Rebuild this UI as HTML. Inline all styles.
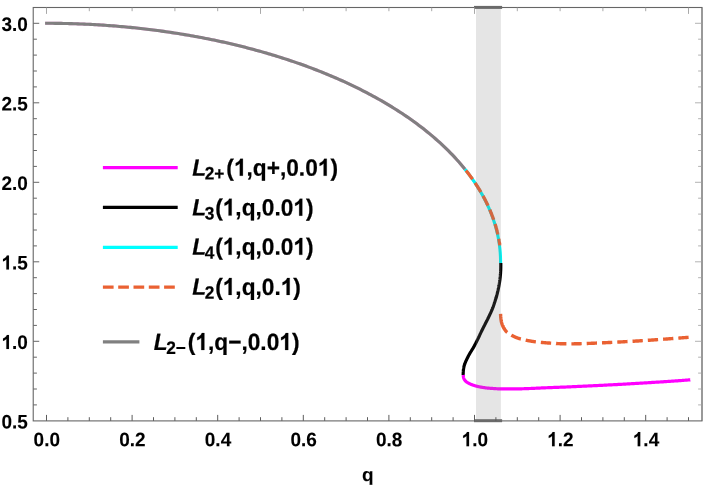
<!DOCTYPE html><html><head><meta charset="utf-8"><style>html,body{margin:0;padding:0;background:#fff}svg{display:block}text{font-family:"Liberation Sans",sans-serif;font-weight:bold;fill:#000;stroke:#000;stroke-width:0.2px}.h{fill:none;stroke:none}.t{stroke-width:0.1px}text{filter:grayscale(0)}</style></head><body>
<svg width="711" height="488" viewBox="0 0 711 488">
<rect width="711" height="488" fill="#fff"/>
<path d="M45.10,23.30 L46.60,23.30 L48.69,23.30 L50.78,23.31 L52.88,23.32 L54.97,23.34 L57.06,23.36 L59.15,23.39 L61.24,23.42 L63.34,23.46 L65.43,23.51 L67.52,23.55 L69.61,23.61 L71.70,23.66 L73.80,23.73 L75.89,23.80 L77.98,23.87 L80.07,23.95 L82.17,24.03 L84.26,24.12 L86.35,24.22 L88.44,24.32 L90.53,24.42 L92.63,24.53 L94.72,24.64 L96.81,24.76 L98.90,24.89 L100.99,25.02 L103.09,25.15 L105.18,25.29 L107.27,25.44 L109.36,25.59 L111.45,25.75 L113.55,25.91 L115.64,26.07 L117.73,26.25 L119.82,26.42 L121.91,26.61 L124.01,26.79 L126.10,26.99 L128.19,27.18 L130.28,27.39 L132.37,27.60 L134.47,27.81 L136.56,28.03 L138.65,28.25 L140.74,28.48 L142.83,28.72 L144.93,28.96 L147.02,29.21 L149.11,29.46 L151.20,29.72 L153.30,29.98 L155.39,30.25 L157.48,30.52 L159.57,30.80 L161.66,31.09 L163.76,31.38 L165.85,31.68 L167.94,31.98 L170.03,32.29 L172.12,32.60 L174.22,32.92 L176.31,33.24 L178.40,33.57 L180.49,33.91 L182.58,34.25 L184.68,34.60 L186.77,34.95 L188.86,35.31 L190.95,35.68 L193.04,36.05 L195.14,36.43 L197.23,36.81 L199.32,37.20 L201.41,37.60 L203.50,38.00 L205.60,38.41 L207.69,38.82 L209.78,39.24 L211.87,39.67 L213.97,40.10 L216.06,40.54 L218.15,40.98 L220.24,41.44 L222.33,41.89 L224.43,42.36 L226.52,42.83 L228.61,43.31 L230.70,43.79 L232.79,44.28 L234.89,44.78 L236.98,45.29 L239.07,45.80 L241.16,46.32 L243.25,46.84 L245.35,47.37 L247.44,47.91 L249.53,48.46 L251.62,49.01 L253.71,49.57 L255.81,50.14 L257.90,50.71 L259.99,51.29 L262.08,51.88 L264.17,52.48 L266.27,53.08 L268.36,53.69 L270.45,54.31 L272.54,54.94 L274.63,55.57 L276.73,56.22 L278.82,56.87 L280.91,57.52 L283.00,58.19 L285.10,58.87 L287.19,59.55 L289.28,60.24 L291.37,60.94 L293.46,61.65 L295.56,62.36 L297.65,63.09 L299.74,63.82 L301.83,64.57 L303.92,65.32 L306.02,66.08 L308.11,66.85 L310.20,67.63 L312.29,68.42 L314.38,69.21 L316.48,70.02 L318.57,70.84 L320.66,71.67 L322.75,72.50 L324.84,73.35 L326.94,74.21 L329.03,75.08 L331.12,75.96 L333.21,76.85 L335.30,77.75 L337.40,78.66 L339.49,79.58 L341.58,80.51 L343.67,81.46 L345.77,82.42 L347.86,83.38 L349.95,84.37 L352.04,85.36 L354.13,86.37 L356.23,87.38 L358.32,88.42 L360.41,89.46 L362.50,90.52 L364.59,91.59 L366.69,92.68 L368.78,93.78 L370.87,94.89 L372.96,96.02 L375.05,97.16 L377.15,98.32 L379.24,99.50 L381.33,100.69 L383.42,101.90 L385.51,103.12 L387.61,104.37 L389.70,105.63 L391.79,106.90 L393.88,108.20 L395.97,109.51 L398.07,110.85 L400.16,112.20 L402.25,113.58 L404.34,114.98 L406.44,116.39 L408.53,117.83 L410.62,119.30 L412.71,120.78 L414.80,122.30 L416.90,123.83 L418.99,125.40 L421.08,126.99 L423.17,128.60 L425.26,130.25 L427.36,131.93 L429.45,133.64 L431.54,135.38 L433.63,137.15 L435.72,138.97 L437.82,140.81 L439.91,142.70 L442.00,144.63 L444.09,146.60 L446.18,148.61 L448.28,150.68 L450.37,152.79 L452.46,154.95 L454.55,157.18 L456.64,159.46 L458.74,161.81 L460.83,164.22 L462.92,166.71 L465.01,169.28" fill="none" stroke="#e040b8" stroke-opacity="0.5" stroke-width="3.1"/>
<path d="M45.10,23.30 L46.60,23.30 L48.69,23.30 L50.78,23.31 L52.88,23.32 L54.97,23.34 L57.06,23.36 L59.15,23.39 L61.24,23.42 L63.34,23.46 L65.43,23.51 L67.52,23.55 L69.61,23.61 L71.70,23.66 L73.80,23.73 L75.89,23.80 L77.98,23.87 L80.07,23.95 L82.17,24.03 L84.26,24.12 L86.35,24.22 L88.44,24.32 L90.53,24.42 L92.63,24.53 L94.72,24.64 L96.81,24.76 L98.90,24.89 L100.99,25.02 L103.09,25.15 L105.18,25.29 L107.27,25.44 L109.36,25.59 L111.45,25.75 L113.55,25.91 L115.64,26.07 L117.73,26.25 L119.82,26.42 L121.91,26.61 L124.01,26.79 L126.10,26.99 L128.19,27.18 L130.28,27.39 L132.37,27.60 L134.47,27.81 L136.56,28.03 L138.65,28.25 L140.74,28.48 L142.83,28.72 L144.93,28.96 L147.02,29.21 L149.11,29.46 L151.20,29.72 L153.30,29.98 L155.39,30.25 L157.48,30.52 L159.57,30.80 L161.66,31.09 L163.76,31.38 L165.85,31.68 L167.94,31.98 L170.03,32.29 L172.12,32.60 L174.22,32.92 L176.31,33.24 L178.40,33.57 L180.49,33.91 L182.58,34.25 L184.68,34.60 L186.77,34.95 L188.86,35.31 L190.95,35.68 L193.04,36.05 L195.14,36.43 L197.23,36.81 L199.32,37.20 L201.41,37.60 L203.50,38.00 L205.60,38.41 L207.69,38.82 L209.78,39.24 L211.87,39.67 L213.97,40.10 L216.06,40.54 L218.15,40.98 L220.24,41.44 L222.33,41.89 L224.43,42.36 L226.52,42.83 L228.61,43.31 L230.70,43.79 L232.79,44.28 L234.89,44.78 L236.98,45.29 L239.07,45.80 L241.16,46.32 L243.25,46.84 L245.35,47.37 L247.44,47.91 L249.53,48.46 L251.62,49.01 L253.71,49.57 L255.81,50.14 L257.90,50.71 L259.99,51.29 L262.08,51.88 L264.17,52.48 L266.27,53.08 L268.36,53.69 L270.45,54.31 L272.54,54.94 L274.63,55.57 L276.73,56.22 L278.82,56.87 L280.91,57.52 L283.00,58.19 L285.10,58.87 L287.19,59.55 L289.28,60.24 L291.37,60.94 L293.46,61.65 L295.56,62.36 L297.65,63.09 L299.74,63.82 L301.83,64.57 L303.92,65.32 L306.02,66.08 L308.11,66.85 L310.20,67.63 L312.29,68.42 L314.38,69.21 L316.48,70.02 L318.57,70.84 L320.66,71.67 L322.75,72.50 L324.84,73.35 L326.94,74.21 L329.03,75.08 L331.12,75.96 L333.21,76.85 L335.30,77.75 L337.40,78.66 L339.49,79.58 L341.58,80.51 L343.67,81.46 L345.77,82.42 L347.86,83.38 L349.95,84.37 L352.04,85.36 L354.13,86.37 L356.23,87.38 L358.32,88.42 L360.41,89.46 L362.50,90.52 L364.59,91.59 L366.69,92.68 L368.78,93.78 L370.87,94.89 L372.96,96.02 L375.05,97.16 L377.15,98.32 L379.24,99.50 L381.33,100.69 L383.42,101.90 L385.51,103.12 L387.61,104.37 L389.70,105.63 L391.79,106.90 L393.88,108.20 L395.97,109.51 L398.07,110.85 L400.16,112.20 L402.25,113.58 L404.34,114.98 L406.44,116.39 L408.53,117.83 L410.62,119.30 L412.71,120.78 L414.80,122.30 L416.90,123.83 L418.99,125.40 L421.08,126.99 L423.17,128.60 L425.26,130.25 L427.36,131.93 L429.45,133.64 L431.54,135.38 L433.63,137.15 L435.72,138.97 L437.82,140.81 L439.91,142.70 L442.00,144.63 L444.09,146.60 L446.18,148.61 L448.28,150.68 L450.37,152.79 L452.46,154.95 L454.55,157.18 L456.64,159.46 L458.74,161.81 L460.83,164.22 L462.92,166.71 L465.01,169.28" fill="none" stroke="#808080" stroke-width="3.1"/>
<path d="M465.01,169.28 L465.39,169.75 L465.76,170.22 L466.13,170.69 L466.50,171.15 L466.86,171.62 L467.23,172.09 L467.59,172.56 L467.94,173.03 L468.30,173.50 L468.66,173.97 L469.01,174.43 L469.36,174.90 L469.71,175.37 L470.05,175.84 L470.40,176.31 L470.74,176.78 L471.08,177.25 L471.41,177.71 L471.75,178.18 L472.08,178.65 L472.41,179.12 L472.74,179.59 L473.07,180.06 L473.39,180.53 L473.71,180.99 L474.03,181.46 L474.35,181.93 L474.67,182.40 L474.98,182.87 L475.29,183.34 L475.60,183.81 L475.91,184.27 L476.22,184.74 L476.52,185.21 L476.82,185.68 L477.12,186.15 L477.42,186.62 L477.71,187.09 L478.01,187.55 L478.30,188.02 L478.59,188.49 L478.87,188.96 L479.16,189.43 L479.44,189.90 L479.72,190.37 L480.00,190.84 L480.28,191.30 L480.55,191.77 L480.83,192.24 L481.10,192.71 L481.37,193.18 L481.63,193.65 L481.90,194.12 L482.16,194.58 L482.42,195.05 L482.68,195.52 L482.94,195.99 L483.19,196.46 L483.45,196.93 L483.70,197.40 L483.95,197.86 L484.19,198.33 L484.44,198.80 L484.68,199.27 L484.92,199.74 L485.16,200.21 L485.40,200.68 L485.64,201.14 L485.87,201.61 L486.10,202.08 L486.33,202.55 L486.56,203.02 L486.78,203.49 L487.01,203.96 L487.23,204.42 L487.45,204.89 L487.67,205.36 L487.89,205.83 L488.10,206.30 L488.31,206.77 L488.52,207.24 L488.73,207.70 L488.94,208.17 L489.14,208.64 L489.35,209.11 L489.55,209.58 L489.75,210.05 L489.94,210.52 L490.14,210.99 L490.33,211.45 L490.52,211.92 L490.71,212.39 L490.90,212.86 L491.09,213.33 L491.27,213.80 L491.45,214.27 L491.64,214.73 L491.81,215.20 L491.99,215.67 L492.17,216.14 L492.34,216.61 L492.51,217.08 L492.68,217.55 L492.85,218.01 L493.01,218.48 L493.18,218.95 L493.34,219.42 L493.50,219.89 L493.66,220.36 L493.81,220.83 L493.97,221.29 L494.12,221.76 L494.27,222.23 L494.42,222.70 L494.57,223.17 L494.71,223.64 L494.86,224.11 L495.00,224.57 L495.14,225.04 L495.28,225.51 L495.41,225.98 L495.55,226.45 L495.68,226.92 L495.81,227.39 L495.94,227.85 L496.07,228.32 L496.19,228.79 L496.32,229.26 L496.44,229.73 L496.56,230.20 L496.68,230.67 L496.79,231.14 L496.91,231.60 L497.02,232.07 L497.13,232.54 L497.24,233.01 L497.35,233.48 L497.46,233.95 L497.56,234.42 L497.66,234.88 L497.76,235.35 L497.86,235.82 L497.96,236.29 L498.05,236.76 L498.15,237.23 L498.24,237.70 L498.33,238.16 L498.42,238.63 L498.50,239.10 L498.59,239.57 L498.67,240.04 L498.75,240.51 L498.83,240.98 L498.91,241.44 L498.98,241.91 L499.06,242.38 L499.13,242.85 L499.20,243.32 L499.27,243.79 L499.33,244.26 L499.40,244.72 L499.46,245.19 L499.52,245.66 L499.58,246.13 L499.64,246.60 L499.70,247.07 L499.75,247.54 L499.80,248.00 L499.85,248.47 L499.90,248.94 L499.95,249.41 L500.00,249.88 L500.04,250.35 L500.08,250.82 L500.12,251.28 L500.16,251.75 L500.20,252.22 L500.23,252.69 L500.26,253.16 L500.30,253.63 L500.33,254.10 L500.35,254.57 L500.38,255.03 L500.40,255.50 L500.43,255.97 L500.45,256.44 L500.47,256.91 L500.48,257.38 L500.50,257.85 L500.51,258.31 L500.53,258.78 L500.54,259.25 L500.55,259.72 L500.55,260.19 L500.56,260.66 L500.56,261.13 L500.56,261.59 L500.56,262.06 L500.56,262.53 L500.56,263.00" fill="none" stroke="#00f2f2" stroke-width="3.1"/>
<path d="M466.01,170.53 L466.23,170.80 L466.53,171.18 L466.83,171.56 L467.12,171.94 L467.42,172.32 L467.71,172.70 L468.01,173.09 L468.30,173.47 L468.59,173.85 L468.88,174.23 L469.16,174.61 L469.45,174.99 L469.73,175.37 L470.02,175.75 L470.30,176.13 L470.58,176.51 L470.85,176.89 L471.13,177.27 L471.41,177.65 L471.68,178.03 L471.95,178.41 L472.23,178.79 L472.50,179.18 L472.55,179.25 M475.05,182.87 L475.12,182.98 L475.37,183.36 L475.63,183.74 L475.88,184.12 L476.13,184.50 L476.38,184.88 L476.63,185.26 L476.87,185.65 L477.12,186.03 L477.36,186.41 L477.60,186.79 L477.85,187.17 L478.09,187.55 L478.32,187.93 L478.56,188.31 L478.80,188.69 L479.03,189.07 L479.26,189.45 L479.50,189.83 L479.73,190.21 L479.96,190.59 L480.18,190.97 L480.41,191.35 L480.63,191.73 L480.85,192.10 M483.02,195.92 L483.23,196.30 L483.44,196.68 L483.65,197.06 L483.85,197.44 L484.06,197.82 L484.26,198.21 L484.46,198.59 L484.66,198.97 L484.86,199.35 L485.06,199.73 L485.25,200.11 L485.45,200.49 L485.64,200.87 L485.84,201.25 L486.03,201.63 L486.22,202.01 L486.41,202.39 L486.59,202.77 L486.78,203.15 L486.96,203.53 L487.15,203.91 L487.33,204.29 L487.51,204.68 L487.69,205.06 L487.87,205.44 L487.96,205.64 M489.76,209.65 L489.92,210.00 L490.08,210.38 L490.24,210.77 L490.40,211.15 L490.56,211.53 L490.71,211.91 L490.87,212.29 L491.03,212.67 L491.18,213.05 L491.33,213.43 L491.48,213.81 L491.63,214.19 L491.78,214.57 L491.93,214.95 L492.07,215.33 L492.22,215.71 L492.36,216.09 L492.51,216.47 L492.65,216.85 L492.79,217.24 L492.93,217.62 L493.06,218.00 L493.20,218.38 L493.34,218.76 L493.47,219.14 L493.60,219.52 L493.70,219.81 M495.07,223.99 L495.10,224.09 L495.22,224.47 L495.34,224.85 L495.45,225.23 L495.56,225.61 L495.68,225.99 L495.79,226.37 L495.90,226.75 L496.01,227.13 L496.11,227.51 L496.22,227.89 L496.33,228.27 L496.43,228.65 L496.53,229.03 L496.63,229.41 L496.73,229.80 L496.83,230.18 L496.93,230.56 L497.03,230.94 L497.12,231.32 L497.22,231.70 L497.31,232.08 L497.40,232.46 L497.50,232.84 L497.59,233.22 L497.67,233.60 L497.76,233.98 L497.85,234.36 L497.88,234.52 M498.77,238.83 L498.79,238.93 L498.86,239.31 L498.93,239.69 L499.00,240.07 L499.07,240.45 L499.13,240.83 L499.20,241.21 L499.26,241.59 L499.33,241.97 L499.39,242.36 L499.45,242.74 L499.51,243.12 L499.57,243.50 L499.62,243.88 L499.68,244.26 L499.73,244.64 L499.79,245.02 L499.84,245.40" fill="none" stroke="#ea6132" stroke-width="3.3"/>
<path d="M500.80,263.00 L500.80,263.17 L500.80,263.35 L500.80,263.56 L500.80,263.79 L500.80,264.04 L500.80,264.30 L500.80,264.58 L500.80,264.88 L500.80,265.18 L500.80,265.50 L500.80,265.83 L500.79,266.17 L500.79,266.51 L500.79,266.86 L500.79,267.22 L500.78,267.58 L500.78,267.94 L500.77,268.30 L500.76,268.66 L500.75,269.02 L500.74,269.37 L500.73,269.72 L500.72,270.06 L500.70,270.40 L500.68,270.73 L500.66,271.07 L500.65,271.41 L500.63,271.75 L500.60,272.10 L500.58,272.45 L500.56,272.80 L500.54,273.16 L500.51,273.51 L500.48,273.87 L500.46,274.23 L500.43,274.59 L500.40,274.95 L500.37,275.31 L500.34,275.67 L500.30,276.03 L500.27,276.40 L500.23,276.76 L500.20,277.12 L500.16,277.48 L500.12,277.83 L500.08,278.19 L500.04,278.55 L500.00,278.90 L499.96,279.25 L499.91,279.60 L499.87,279.95 L499.82,280.31 L499.77,280.66 L499.72,281.01 L499.67,281.36 L499.62,281.71 L499.57,282.06 L499.51,282.40 L499.46,282.75 L499.40,283.10 L499.35,283.45 L499.29,283.80 L499.23,284.15 L499.17,284.50 L499.11,284.85 L499.04,285.20 L498.98,285.55 L498.92,285.90 L498.85,286.25 L498.79,286.60 L498.72,286.95 L498.65,287.30 L498.58,287.65 L498.51,288.02 L498.43,288.38 L498.35,288.75 L498.27,289.13 L498.19,289.51 L498.11,289.89 L498.02,290.27 L497.93,290.65 L497.85,291.03 L497.76,291.41 L497.67,291.78 L497.58,292.16 L497.50,292.52 L497.41,292.89 L497.32,293.24 L497.24,293.59 L497.16,293.93 L497.07,294.26 L496.99,294.58 L496.92,294.89 L496.84,295.19 L496.77,295.48 L496.70,295.75 L496.63,296.00 L496.57,296.24 L496.52,296.45 L496.46,296.65 L496.41,296.84 L496.37,297.01 L496.32,297.17 L496.28,297.32 L496.23,297.47 L496.19,297.61 L496.15,297.74 L496.11,297.88 L496.06,298.01 L496.02,298.15 L495.97,298.29 L495.92,298.43 L495.87,298.58 L495.82,298.74 L495.76,298.92 L495.70,299.10 L495.63,299.30 L495.56,299.51 L495.48,299.75 L495.40,300.00 L495.31,300.27 L495.22,300.55 L495.12,300.85 L495.03,301.16 L494.92,301.48 L494.82,301.81 L494.71,302.14 L494.60,302.49 L494.49,302.84 L494.37,303.20 L494.25,303.57 L494.13,303.93 L494.01,304.31 L493.88,304.68 L493.76,305.06 L493.63,305.44 L493.50,305.82 L493.37,306.20 L493.23,306.57 L493.10,306.95 L492.96,307.32 L492.83,307.68 L492.69,308.04 L492.55,308.40 L492.41,308.75 L492.27,309.11 L492.12,309.46 L491.98,309.81 L491.83,310.17 L491.68,310.52 L491.52,310.87 L491.37,311.23 L491.21,311.58 L491.06,311.94 L490.90,312.29 L490.74,312.65 L490.58,313.01 L490.41,313.36 L490.25,313.72 L490.09,314.07 L489.92,314.43 L489.75,314.78 L489.59,315.13 L489.42,315.49 L489.25,315.84 L489.09,316.19 L488.92,316.55 L488.75,316.90 L488.58,317.25 L488.41,317.60 L488.24,317.95 L488.07,318.31 L487.89,318.66 L487.72,319.01 L487.54,319.36 L487.36,319.71 L487.19,320.06 L487.01,320.40 L486.83,320.75 L486.65,321.10 L486.47,321.45 L486.29,321.80 L486.11,322.15 L485.93,322.50 L485.75,322.85 L485.57,323.20 L485.39,323.55 L485.21,323.90 L485.03,324.25 L484.85,324.60 L484.68,324.95 L484.50,325.30 L484.32,325.66 L484.14,326.02 L483.96,326.39 L483.77,326.76 L483.58,327.14 L483.39,327.52 L483.20,327.90 L483.00,328.29 L482.81,328.67 L482.62,329.06 L482.43,329.44 L482.24,329.82 L482.05,330.19 L481.87,330.56 L481.69,330.92 L481.51,331.28 L481.34,331.63 L481.17,331.97 L481.01,332.30 L480.85,332.61 L480.71,332.92 L480.56,333.21 L480.43,333.49 L480.30,333.75 L480.18,333.99 L480.08,334.21 L479.99,334.41 L479.90,334.59 L479.83,334.75 L479.77,334.90 L479.71,335.03 L479.65,335.16 L479.60,335.27 L479.56,335.38 L479.51,335.49 L479.47,335.60 L479.43,335.70 L479.38,335.81 L479.34,335.92 L479.29,336.04 L479.23,336.17 L479.17,336.31 L479.10,336.46 L479.02,336.63 L478.93,336.82 L478.83,337.02 L478.72,337.25 L478.60,337.50 L478.47,337.77 L478.32,338.06 L478.17,338.37 L478.01,338.69 L477.85,339.02 L477.67,339.37 L477.50,339.73 L477.31,340.10 L477.12,340.48 L476.93,340.86 L476.73,341.26 L476.53,341.65 L476.33,342.05 L476.13,342.46 L475.92,342.87 L475.71,343.27 L475.50,343.68 L475.29,344.08 L475.08,344.48 L474.87,344.88 L474.66,345.27 L474.46,345.66 L474.25,346.03 L474.05,346.40 L473.85,346.76 L473.64,347.12 L473.44,347.48 L473.23,347.84 L473.01,348.20 L472.80,348.56 L472.58,348.91 L472.36,349.27 L472.15,349.62 L471.93,349.98 L471.71,350.33 L471.49,350.68 L471.27,351.03 L471.06,351.39 L470.84,351.74 L470.62,352.09 L470.41,352.44 L470.20,352.79 L469.99,353.14 L469.79,353.49 L469.58,353.85 L469.39,354.20 L469.19,354.55 L469.00,354.90 L468.81,355.25 L468.62,355.61 L468.43,355.97 L468.24,356.33 L468.06,356.70 L467.87,357.07 L467.68,357.43 L467.50,357.80 L467.31,358.17 L467.13,358.53 L466.95,358.90 L466.78,359.26 L466.61,359.62 L466.44,359.98 L466.27,360.34 L466.11,360.69 L465.95,361.04 L465.80,361.38 L465.65,361.71 L465.51,362.05 L465.37,362.37 L465.24,362.69 L465.12,363.00 L465.00,363.30 L464.89,363.59 L464.78,363.88 L464.69,364.16 L464.59,364.43 L464.50,364.69 L464.42,364.95 L464.34,365.20 L464.27,365.45 L464.20,365.70 L464.14,365.94 L464.08,366.17 L464.02,366.41 L463.97,366.64 L463.92,366.87 L463.87,367.10 L463.82,367.33 L463.78,367.55 L463.74,367.78 L463.69,368.01 L463.65,368.25 L463.62,368.48 L463.58,368.72 L463.54,368.96 L463.50,369.20 L463.46,369.45 L463.43,369.71 L463.40,369.98 L463.37,370.25 L463.35,370.53 L463.32,370.81 L463.30,371.10 L463.29,371.39 L463.27,371.67 L463.25,371.96 L463.24,372.24 L463.23,372.52 L463.22,372.79 L463.21,373.06 L463.21,373.32 L463.20,373.57 L463.19,373.81 L463.19,374.04 L463.18,374.26 L463.17,374.46 L463.17,374.64 L463.16,374.81 L463.16,374.97 L463.15,375.10" fill="none" stroke="#000" stroke-width="3.2"/>
<path d="M463.15,375.10 L463.16,375.17 L463.18,375.26 L463.19,375.36 L463.21,375.46 L463.22,375.58 L463.24,375.70 L463.25,375.83 L463.27,375.97 L463.29,376.11 L463.31,376.26 L463.33,376.41 L463.35,376.57 L463.37,376.73 L463.40,376.89 L463.43,377.05 L463.46,377.21 L463.49,377.37 L463.53,377.53 L463.57,377.68 L463.61,377.83 L463.65,377.98 L463.70,378.13 L463.75,378.27 L463.80,378.40 L463.86,378.53 L463.91,378.66 L463.97,378.78 L464.03,378.91 L464.09,379.04 L464.15,379.16 L464.22,379.28 L464.29,379.41 L464.35,379.53 L464.43,379.65 L464.50,379.77 L464.58,379.89 L464.66,380.01 L464.74,380.13 L464.83,380.25 L464.92,380.37 L465.02,380.49 L465.11,380.61 L465.22,380.72 L465.32,380.84 L465.44,380.95 L465.55,381.07 L465.67,381.19 L465.80,381.30 L465.93,381.41 L466.07,381.53 L466.21,381.64 L466.35,381.76 L466.50,381.87 L466.65,381.98 L466.80,382.09 L466.96,382.20 L467.12,382.31 L467.29,382.42 L467.46,382.53 L467.63,382.64 L467.81,382.75 L467.99,382.86 L468.17,382.97 L468.36,383.07 L468.56,383.18 L468.75,383.29 L468.95,383.39 L469.15,383.49 L469.36,383.60 L469.57,383.70 L469.78,383.80 L470.00,383.90 L470.22,384.00 L470.45,384.10 L470.67,384.20 L470.91,384.30 L471.14,384.39 L471.38,384.49 L471.63,384.59 L471.87,384.69 L472.13,384.78 L472.38,384.88 L472.64,384.97 L472.90,385.06 L473.17,385.15 L473.43,385.25 L473.71,385.34 L473.98,385.43 L474.26,385.51 L474.54,385.60 L474.83,385.69 L475.12,385.77 L475.41,385.86 L475.70,385.94 L476.00,386.02 L476.30,386.10 L476.61,386.18 L476.92,386.26 L477.23,386.33 L477.55,386.41 L477.88,386.49 L478.21,386.56 L478.54,386.63 L478.88,386.71 L479.22,386.78 L479.57,386.85 L479.91,386.92 L480.26,386.99 L480.61,387.05 L480.97,387.12 L481.32,387.18 L481.67,387.25 L482.03,387.31 L482.38,387.37 L482.74,387.43 L483.09,387.49 L483.45,387.54 L483.80,387.60 L484.15,387.65 L484.50,387.70 L484.85,387.75 L485.20,387.80 L485.55,387.84 L485.90,387.88 L486.25,387.93 L486.61,387.97 L486.96,388.00 L487.31,388.04 L487.67,388.08 L488.03,388.11 L488.38,388.14 L488.74,388.18 L489.09,388.21 L489.45,388.24 L489.81,388.26 L490.16,388.29 L490.52,388.32 L490.88,388.35 L491.23,388.37 L491.59,388.40 L491.94,388.42 L492.29,388.45 L492.65,388.47 L493.00,388.50 L493.35,388.52 L493.68,388.55 L494.01,388.57 L494.33,388.59 L494.65,388.62 L494.96,388.64 L495.26,388.66 L495.57,388.68 L495.88,388.70 L496.18,388.72 L496.49,388.73 L496.81,388.75 L497.13,388.77 L497.45,388.78 L497.79,388.80 L498.13,388.81 L498.48,388.82 L498.85,388.84 L499.23,388.85 L499.63,388.86 L500.04,388.87 L500.48,388.88 L500.93,388.89 L501.40,388.90 L501.90,388.91 L502.41,388.92 L502.95,388.92 L503.51,388.93 L504.08,388.93 L504.67,388.94 L505.28,388.94 L505.90,388.94 L506.53,388.95 L507.16,388.95 L507.81,388.95 L508.46,388.95 L509.12,388.95 L509.78,388.95 L510.44,388.95 L511.10,388.94 L511.76,388.94 L512.42,388.94 L513.07,388.93 L513.72,388.93 L514.35,388.92 L514.98,388.92 L515.60,388.91 L516.20,388.90 L516.79,388.89 L517.38,388.88 L517.96,388.87 L518.54,388.86 L519.11,388.85 L519.69,388.84 L520.25,388.82 L520.82,388.81 L521.38,388.79 L521.94,388.78 L522.51,388.76 L523.07,388.74 L523.63,388.73 L524.19,388.71 L524.76,388.69 L525.33,388.67 L525.90,388.65 L526.47,388.63 L527.04,388.61 L527.62,388.59 L528.21,388.57 L528.80,388.55 L529.40,388.52 L530.00,388.50 L530.60,388.48 L531.19,388.45 L531.77,388.43 L532.35,388.40 L532.92,388.38 L533.49,388.35 L534.05,388.33 L534.62,388.30 L535.19,388.27 L535.76,388.24 L536.34,388.22 L536.93,388.19 L537.53,388.16 L538.14,388.13 L538.76,388.10 L539.40,388.07 L540.06,388.04 L540.74,388.00 L541.43,387.97 L542.15,387.94 L542.90,387.90 L543.67,387.87 L544.47,387.84 L545.30,387.80 L546.16,387.76 L547.06,387.73 L547.98,387.69 L548.94,387.65 L549.92,387.61 L550.92,387.58 L551.94,387.54 L552.99,387.50 L554.05,387.46 L555.13,387.41 L556.22,387.37 L557.32,387.33 L558.43,387.29 L559.54,387.25 L560.67,387.20 L561.79,387.16 L562.91,387.12 L564.03,387.07 L565.15,387.03 L566.26,386.98 L567.36,386.94 L568.46,386.89 L569.54,386.85 L570.60,386.80 L571.66,386.75 L572.71,386.71 L573.77,386.66 L574.83,386.61 L575.89,386.56 L576.95,386.52 L578.00,386.47 L579.06,386.42 L580.12,386.37 L581.18,386.32 L582.24,386.27 L583.30,386.22 L584.36,386.17 L585.42,386.12 L586.48,386.07 L587.54,386.01 L588.60,385.96 L589.65,385.91 L590.71,385.86 L591.77,385.81 L592.83,385.76 L593.89,385.70 L594.94,385.65 L596.00,385.60 L597.06,385.55 L598.11,385.50 L599.17,385.44 L600.22,385.39 L601.28,385.34 L602.33,385.29 L603.39,385.23 L604.44,385.18 L605.49,385.13 L606.55,385.08 L607.60,385.02 L608.66,384.97 L609.71,384.91 L610.76,384.86 L611.82,384.81 L612.87,384.75 L613.92,384.70 L614.98,384.64 L616.03,384.59 L617.08,384.53 L618.14,384.47 L619.19,384.42 L620.25,384.36 L621.30,384.30 L622.35,384.24 L623.41,384.18 L624.46,384.12 L625.52,384.06 L626.57,384.00 L627.62,383.94 L628.68,383.88 L629.73,383.82 L630.79,383.76 L631.84,383.69 L632.90,383.63 L633.95,383.57 L635.00,383.51 L636.06,383.44 L637.11,383.38 L638.17,383.31 L639.22,383.25 L640.28,383.19 L641.33,383.12 L642.38,383.06 L643.44,382.99 L644.49,382.93 L645.55,382.86 L646.60,382.80 L647.66,382.73 L648.74,382.67 L649.82,382.60 L650.92,382.54 L652.02,382.47 L653.13,382.40 L654.24,382.33 L655.36,382.26 L656.47,382.19 L657.58,382.12 L658.69,382.05 L659.79,381.98 L660.89,381.92 L661.98,381.85 L663.05,381.78 L664.11,381.71 L665.16,381.64 L666.19,381.58 L667.20,381.51 L668.19,381.45 L669.15,381.38 L670.10,381.32 L671.01,381.26 L671.90,381.20 L672.77,381.14 L673.64,381.08 L674.50,381.02 L675.35,380.96 L676.19,380.90 L677.02,380.84 L677.84,380.78 L678.64,380.71 L679.43,380.66 L680.21,380.60 L680.96,380.54 L681.70,380.48 L682.42,380.43 L683.11,380.37 L683.78,380.32 L684.42,380.27 L685.04,380.22 L685.63,380.17 L686.19,380.13 L686.72,380.09 L687.22,380.05 L687.68,380.01 L688.11,379.98 L688.50,379.95 L688.85,379.92 L689.15,379.90 L689.40,379.88 L689.62,379.87 L689.79,379.85 L689.93,379.84 L690.04,379.83 L690.11,379.83 L690.17,379.82 L690.19,379.82 L690.20,379.82 L690.19,379.82 L690.16,379.82 L690.13,379.83 L690.08,379.83 L690.03,379.83 L689.98,379.84 L689.92,379.84 L689.88,379.84 L689.84,379.85 L689.80,379.85 L689.79,379.85 L689.78,379.85 L689.80,379.85" fill="none" stroke="#ff00ff" stroke-width="3.2"/>
<path d="M688.60,337.30 L688.23,337.33 L687.82,337.36 L687.37,337.40 L686.88,337.44 L686.36,337.48 L685.80,337.52 L685.21,337.57 L684.59,337.62 L683.94,337.67 L683.26,337.72 L682.56,337.78 L681.83,337.84 L681.08,337.90 L680.31,337.96 L679.53,338.02 L678.72,338.08 L678.33,338.11 M673.35,338.49 L672.77,338.54 L671.90,338.60 L671.01,338.67 L670.09,338.73 L669.15,338.80 L668.18,338.87 L667.19,338.95 L666.18,339.02 L665.15,339.10 L664.10,339.17 L663.07,339.25 M658.09,339.61 L657.58,339.65 L656.47,339.73 L655.35,339.80 L654.24,339.88 L653.13,339.96 L652.02,340.04 L650.92,340.11 L649.82,340.19 L648.74,340.26 L647.81,340.32 M642.82,340.64 L642.38,340.67 L641.33,340.74 L640.28,340.80 L639.22,340.87 L638.17,340.93 L637.11,341.00 L636.06,341.06 L635.00,341.12 L633.95,341.19 L632.90,341.25 L632.54,341.27 M627.55,341.56 L626.57,341.61 L625.52,341.67 L624.46,341.73 L623.41,341.79 L622.35,341.84 L621.30,341.90 L620.24,341.96 L619.18,342.01 L618.10,342.07 L617.26,342.11 M612.27,342.36 L611.59,342.39 L610.51,342.45 L609.42,342.50 L608.34,342.55 L607.26,342.60 L606.19,342.65 L605.12,342.70 L604.06,342.75 L603.01,342.80 L601.98,342.84 M596.99,343.06 L596.96,343.06 L596.00,343.10 L595.05,343.14 L594.12,343.18 L593.19,343.22 L592.27,343.25 L591.36,343.29 L590.45,343.33 L589.56,343.36 L588.67,343.40 L587.80,343.43 L586.93,343.47 L586.70,343.48 M581.70,343.65 L581.10,343.67 L580.30,343.69 L579.51,343.71 L578.73,343.74 L577.96,343.75 L577.20,343.77 L576.44,343.79 L575.70,343.80 L574.97,343.81 L574.24,343.82 L573.52,343.83 L572.82,343.84 L572.12,343.84 L571.43,343.84 L571.40,343.84 M566.40,343.82 L566.24,343.82 L565.63,343.81 L565.03,343.80 L564.44,343.79 L563.85,343.78 L563.27,343.77 L562.70,343.75 L562.14,343.74 L561.59,343.73 L561.04,343.71 L560.50,343.70 L559.97,343.68 L559.46,343.67 L558.95,343.65 L558.46,343.63 L557.98,343.61 L557.51,343.59 L557.05,343.56 L556.59,343.54 L556.15,343.52 L556.11,343.51 M551.12,343.18 L550.81,343.16 L550.40,343.13 L550.00,343.10 L549.59,343.07 L549.19,343.04 L548.78,343.02 L548.37,342.99 L547.97,342.96 L547.56,342.93 L547.16,342.90 L546.76,342.87 L546.36,342.84 L545.96,342.81 L545.57,342.77 L545.18,342.74 L544.80,342.71 L544.42,342.68 L544.05,342.65 L543.69,342.62 L543.33,342.59 L542.98,342.56 L542.63,342.53 L542.30,342.51 L541.97,342.48 L541.65,342.45 L541.35,342.43 L541.05,342.40 L540.85,342.38 M535.87,341.88 L535.79,341.87 L535.58,341.84 L535.36,341.82 L535.15,341.79 L534.94,341.75 L534.73,341.72 L534.51,341.69 L534.30,341.66 L534.09,341.63 L533.87,341.59 L533.66,341.56 L533.45,341.53 L533.23,341.49 L533.02,341.46 L532.81,341.42 L532.59,341.39 L532.38,341.35 L532.17,341.31 L531.96,341.28 L531.74,341.24 L531.53,341.21 L531.32,341.17 L531.11,341.14 L530.90,341.10 L530.69,341.06 L530.48,341.03 L530.27,340.99 L530.06,340.96 L529.85,340.92 L529.65,340.89 L529.44,340.85 L529.23,340.82 L529.02,340.78 L528.81,340.75 L528.61,340.71 L528.40,340.68 L528.19,340.64 L527.99,340.60 L527.78,340.56 L527.57,340.53 L527.36,340.49 L527.15,340.45 L526.95,340.41 L526.74,340.37 L526.53,340.33 L526.32,340.29 L526.11,340.24 L525.90,340.20 L525.72,340.16 M520.85,339.01 L520.80,339.00 L520.60,338.94 L520.40,338.89 L520.20,338.83 L520.01,338.78 L519.81,338.72 L519.62,338.66 L519.42,338.61 L519.23,338.55 L519.04,338.49 L518.85,338.44 L518.66,338.38 L518.47,338.32 L518.29,338.26 L518.10,338.20 L517.91,338.13 L517.72,338.07 L517.53,338.01 L517.35,337.94 L517.16,337.87 L516.97,337.80 L516.78,337.73 L516.59,337.65 L516.39,337.58 L516.20,337.50 L516.01,337.42 L515.81,337.34 L515.61,337.25 L515.42,337.17 L515.22,337.08 L515.02,336.99 L514.82,336.90 L514.62,336.81 L514.42,336.72 L514.22,336.62 L514.02,336.53 L513.83,336.43 L513.63,336.33 L513.43,336.23 L513.23,336.13 L513.03,336.03 L512.84,335.93 L512.64,335.83 L512.45,335.73 L512.26,335.62 L512.06,335.52 L511.87,335.41 L511.69,335.31 L511.50,335.20 L511.36,335.12 M500.55,313.90 L500.56,313.99 L500.56,314.08 L500.57,314.19 L500.57,314.31 L500.58,314.44 L500.59,314.57 L500.59,314.72 L500.60,314.87 L500.61,315.03 L500.62,315.19 L500.63,315.36 L500.64,315.54 L500.65,315.72 L500.66,315.90 L500.67,316.08 L500.68,316.26 L500.69,316.45 L500.71,316.63 L500.72,316.82 L500.74,317.00 L500.75,317.18 L500.77,317.36 L500.78,317.53 L500.80,317.70 L500.82,317.87 L500.84,318.04 L500.85,318.21 L500.87,318.39 L500.89,318.56 L500.91,318.74 L500.93,318.92 L500.96,319.10 L500.98,319.28 L501.00,319.46 L501.02,319.64 L501.05,319.82 L501.07,320.01 L501.10,320.19 L501.12,320.37 L501.15,320.54 L501.18,320.72 L501.21,320.90 L501.24,321.07 L501.27,321.24 L501.30,321.41 L501.33,321.58 L501.37,321.74 L501.40,321.90 L501.44,322.06 L501.47,322.21 L501.51,322.37 L501.55,322.52 L501.59,322.67 L501.63,322.82 L501.68,322.97 L501.72,323.11 L501.76,323.26 L501.81,323.40 L501.85,323.54 L501.90,323.68 L501.95,323.82 L502.00,323.96 L502.04,324.10 L502.09,324.23 L502.14,324.37 L502.19,324.50 L502.24,324.64 L502.29,324.77 L502.34,324.90 L502.40,325.04 L502.45,325.17 L502.50,325.30 L502.55,325.43 L502.61,325.56 L502.66,325.69 L502.71,325.82 L502.77,325.94 L502.82,326.07 L502.88,326.19 L502.93,326.32 L502.99,326.44 L503.05,326.56 L503.10,326.69 L503.16,326.81 L503.22,326.93 L503.28,327.05 L503.34,327.16 L503.40,327.28 L503.46,327.40 L503.52,327.51 L503.58,327.63 L503.65,327.75 L503.71,327.86 L503.77,327.97 L503.84,328.09 L503.90,328.20 L503.97,328.31 L504.03,328.42 L504.10,328.54 L504.17,328.65 L504.23,328.76 L504.30,328.87 L504.37,328.98 L504.44,329.09 L504.52,329.20 L504.59,329.31 L504.66,329.42 L504.73,329.52 L504.80,329.63 L504.88,329.74 L504.95,329.84 L505.02,329.94 L505.10,330.04 L505.17,330.14 L505.24,330.24 L505.31,330.33 L505.39,330.43 L505.46,330.52 L505.53,330.61 L505.60,330.70 L505.67,330.79 L505.73,330.87 L505.80,330.94 L505.85,331.02 L505.91,331.09 L505.97,331.16 L506.02,331.22 L506.07,331.29 L506.13,331.35 L506.18,331.41 L506.24,331.47 L506.29,331.53 L506.35,331.59 L506.41,331.65 L506.48,331.72 L506.55,331.78 L506.62,331.85 L506.70,331.92 L506.78,331.99 L506.87,332.06 L506.97,332.14 L507.07,332.22 L507.18,332.31 L507.30,332.40" fill="none" stroke="#ea6132" stroke-width="3.4"/>
<rect x="476.0" y="7.5" width="24.9" height="413.4" fill="#808080" fill-opacity="0.205"/>
<rect x="33.22" y="7.50" width="668.78" height="413.40" fill="none" stroke="#666" stroke-width="1.1"/>
<line x1="702.00" x2="702.00" y1="7.50" y2="420.90" stroke="#666" stroke-width="1.5" stroke-opacity="0.35"/>
<line x1="475.5" x2="500.6" y1="7.4" y2="7.4" stroke="#6a6a6a" stroke-width="3" stroke-linecap="square"/>
<line x1="475.5" x2="500.6" y1="420.7" y2="420.7" stroke="#6a6a6a" stroke-width="3" stroke-linecap="square"/>
<path d="M46.50,420.90 v-6.00 M67.90,420.90 v-3.70 M89.30,420.90 v-3.70 M110.70,420.90 v-3.70 M132.10,420.90 v-6.00 M153.50,420.90 v-3.70 M174.90,420.90 v-3.70 M196.30,420.90 v-3.70 M217.70,420.90 v-6.00 M239.10,420.90 v-3.70 M260.50,420.90 v-3.70 M281.90,420.90 v-3.70 M303.30,420.90 v-6.00 M324.70,420.90 v-3.70 M346.10,420.90 v-3.70 M367.50,420.90 v-3.70 M388.90,420.90 v-6.00 M410.30,420.90 v-3.70 M431.70,420.90 v-3.70 M453.10,420.90 v-3.70 M474.50,420.90 v-6.00 M495.90,420.90 v-3.70 M517.30,420.90 v-3.70 M538.70,420.90 v-3.70 M560.10,420.90 v-6.00 M581.50,420.90 v-3.70 M602.90,420.90 v-3.70 M624.30,420.90 v-3.70 M645.70,420.90 v-6.00 M667.10,420.90 v-3.70 M688.50,420.90 v-3.70" fill="none" stroke="#5c5c5c" stroke-width="1"/>
<path d="M46.50,7.50 v6.40 M89.30,7.50 v3.70 M132.10,7.50 v3.70 M174.90,7.50 v3.70 M217.70,7.50 v3.70 M260.50,7.50 v6.40 M303.30,7.50 v3.70 M346.10,7.50 v3.70 M388.90,7.50 v3.70 M431.70,7.50 v3.70 M474.50,7.50 v6.40 M517.30,7.50 v3.70 M560.10,7.50 v3.70 M602.90,7.50 v3.70 M645.70,7.50 v3.70 M688.50,7.50 v6.40" fill="none" stroke="#999" stroke-width="0.85"/>
<path d="M33.22,404.90 h3.70 M33.22,389.00 h3.70 M33.22,373.10 h3.70 M33.22,357.20 h3.70 M33.22,341.30 h6.00 M33.22,325.40 h3.70 M33.22,309.50 h3.70 M33.22,293.60 h3.70 M33.22,277.70 h3.70 M33.22,261.80 h6.00 M33.22,245.90 h3.70 M33.22,230.00 h3.70 M33.22,214.10 h3.70 M33.22,198.20 h3.70 M33.22,182.30 h6.00 M33.22,166.40 h3.70 M33.22,150.50 h3.70 M33.22,134.60 h3.70 M33.22,118.70 h3.70 M33.22,102.80 h6.00 M33.22,86.90 h3.70 M33.22,71.00 h3.70 M33.22,55.10 h3.70 M33.22,39.20 h3.70 M33.22,23.30 h6.00" fill="none" stroke="#666" stroke-width="1"/>
<path d="M702.00,404.90 h-3.90 M702.00,389.00 h-3.90 M702.00,373.10 h-3.90 M702.00,357.20 h-3.90 M702.00,341.30 h-7.00 M702.00,325.40 h-3.90 M702.00,309.50 h-3.90 M702.00,293.60 h-3.90 M702.00,277.70 h-3.90 M702.00,261.80 h-7.00 M702.00,245.90 h-3.90 M702.00,230.00 h-3.90 M702.00,214.10 h-3.90 M702.00,198.20 h-3.90 M702.00,182.30 h-7.00 M702.00,166.40 h-3.90 M702.00,150.50 h-3.90 M702.00,134.60 h-3.90 M702.00,118.70 h-3.90 M702.00,102.80 h-7.00 M702.00,86.90 h-3.90 M702.00,71.00 h-3.90 M702.00,55.10 h-3.90 M702.00,39.20 h-3.90 M702.00,23.30 h-7.00" fill="none" stroke="#a0a0a0" stroke-width="0.8"/>
<text id="bx0" class="t" transform="translate(46.8,446.25) rotate(0.03) scale(1,1.035)" font-size="19.0" text-anchor="middle">0.0</text>
<text id="bx1" class="t" transform="translate(132.4,446.25) rotate(0.03) scale(1,1.035)" font-size="19.0" text-anchor="middle">0.2</text>
<text id="bx2" class="t" transform="translate(218.0,446.25) rotate(0.03) scale(1,1.035)" font-size="19.0" text-anchor="middle">0.4</text>
<text id="bx3" class="t" transform="translate(303.6,446.25) rotate(0.03) scale(1,1.035)" font-size="19.0" text-anchor="middle">0.6</text>
<text id="bx4" class="t" transform="translate(389.2,446.25) rotate(0.03) scale(1,1.035)" font-size="19.0" text-anchor="middle">0.8</text>
<text id="bx5" class="t" transform="translate(474.8,446.25) rotate(0.03) scale(1,1.035)" font-size="19.0" text-anchor="middle"><tspan class="h">1</tspan>.0</text>
<path transform="translate(474.8,446.25) rotate(0.03) scale(1,1.035) translate(-13.20,0.00) scale(0.00928,-0.00928)" d="M806 0H525V1059Q371 915 162 846V1101Q272 1137 401 1237.5T578 1472H806Z" fill="#000" stroke="#000" stroke-width="0.10" vector-effect="non-scaling-stroke"/>
<text id="bx6" class="t" transform="translate(560.4,446.25) rotate(0.03) scale(1,1.035)" font-size="19.0" text-anchor="middle"><tspan class="h">1</tspan>.2</text>
<path transform="translate(560.4,446.25) rotate(0.03) scale(1,1.035) translate(-13.20,0.00) scale(0.00928,-0.00928)" d="M806 0H525V1059Q371 915 162 846V1101Q272 1137 401 1237.5T578 1472H806Z" fill="#000" stroke="#000" stroke-width="0.10" vector-effect="non-scaling-stroke"/>
<text id="bx7" class="t" transform="translate(646.0,446.25) rotate(0.03) scale(1,1.035)" font-size="19.0" text-anchor="middle"><tspan class="h">1</tspan>.4</text>
<path transform="translate(646.0,446.25) rotate(0.03) scale(1,1.035) translate(-13.20,0.00) scale(0.00928,-0.00928)" d="M806 0H525V1059Q371 915 162 846V1101Q272 1137 401 1237.5T578 1472H806Z" fill="#000" stroke="#000" stroke-width="0.10" vector-effect="non-scaling-stroke"/>
<text id="ly5" class="t" transform="translate(27.9,428.6) rotate(0.03) scale(1,1.035)" font-size="19.0" text-anchor="end">0.5</text>
<text id="ly10" class="t" transform="translate(27.9,349.1) rotate(0.03) scale(1,1.035)" font-size="19.0" text-anchor="end"><tspan class="h">1</tspan>.0</text>
<path transform="translate(27.9,349.1) rotate(0.03) scale(1,1.035) translate(-26.41,0.00) scale(0.00928,-0.00928)" d="M806 0H525V1059Q371 915 162 846V1101Q272 1137 401 1237.5T578 1472H806Z" fill="#000" stroke="#000" stroke-width="0.10" vector-effect="non-scaling-stroke"/>
<text id="ly15" class="t" transform="translate(27.9,269.6) rotate(0.03) scale(1,1.035)" font-size="19.0" text-anchor="end"><tspan class="h">1</tspan>.5</text>
<path transform="translate(27.9,269.6) rotate(0.03) scale(1,1.035) translate(-26.41,0.00) scale(0.00928,-0.00928)" d="M806 0H525V1059Q371 915 162 846V1101Q272 1137 401 1237.5T578 1472H806Z" fill="#000" stroke="#000" stroke-width="0.10" vector-effect="non-scaling-stroke"/>
<text id="ly20" class="t" transform="translate(27.9,190.1) rotate(0.03) scale(1,1.035)" font-size="19.0" text-anchor="end">2.0</text>
<text id="ly25" class="t" transform="translate(27.9,110.6) rotate(0.03) scale(1,1.035)" font-size="19.0" text-anchor="end">2.5</text>
<text id="ly30" class="t" transform="translate(27.9,31.1) rotate(0.03) scale(1,1.035)" font-size="19.0" text-anchor="end">3.0</text>
<text class="t" transform="translate(367.8,481.1) rotate(0.03) scale(1,0.975)" font-size="19.0" text-anchor="middle">q</text>
<line x1="102.9" x2="177.7" y1="167.6" y2="167.6" stroke="#ff00ff" stroke-width="3.2"/>
<text id="lg175" transform="translate(192.30,175.65) rotate(0.03) scale(1,1.04)" font-size="22.7"><tspan font-style="italic">L</tspan><tspan font-size="17.3" dy="3.8" dx="-1.5">2+</tspan><tspan dy="-3.8" dx="2.0">(<tspan class="h">1</tspan>,q+,0.0<tspan class="h">1</tspan>)</tspan></text>
<path transform="translate(192.30,175.65) rotate(0.03) scale(1,1.04) translate(41.64,0.00) scale(0.01108,-0.01108)" d="M806 0H525V1059Q371 915 162 846V1101Q272 1137 401 1237.5T578 1472H806Z" fill="#000" stroke="#000" stroke-width="0.20" vector-effect="non-scaling-stroke"/>
<path transform="translate(192.30,175.65) rotate(0.03) scale(1,1.04) translate(125.51,0.00) scale(0.01108,-0.01108)" d="M806 0H525V1059Q371 915 162 846V1101Q272 1137 401 1237.5T578 1472H806Z" fill="#000" stroke="#000" stroke-width="0.20" vector-effect="non-scaling-stroke"/>
<line x1="102.9" x2="177.7" y1="207.4" y2="207.4" stroke="#000" stroke-width="3.2"/>
<text id="lg215" transform="translate(192.30,215.58) rotate(0.03) scale(1,1.04)" font-size="22.7"><tspan font-style="italic">L</tspan><tspan font-size="17.3" dy="3.8" dx="-1.5">3</tspan><tspan dy="-3.8" dx="0.9">(<tspan class="h">1</tspan>,q,0.0<tspan class="h">1</tspan>)</tspan></text>
<path transform="translate(192.30,215.58) rotate(0.03) scale(1,1.04) translate(30.44,0.00) scale(0.01108,-0.01108)" d="M806 0H525V1059Q371 915 162 846V1101Q272 1137 401 1237.5T578 1472H806Z" fill="#000" stroke="#000" stroke-width="0.20" vector-effect="non-scaling-stroke"/>
<path transform="translate(192.30,215.58) rotate(0.03) scale(1,1.04) translate(101.07,0.00) scale(0.01108,-0.01108)" d="M806 0H525V1059Q371 915 162 846V1101Q272 1137 401 1237.5T578 1472H806Z" fill="#000" stroke="#000" stroke-width="0.20" vector-effect="non-scaling-stroke"/>
<line x1="102.9" x2="177.7" y1="247.3" y2="247.3" stroke="#00ffff" stroke-width="3.2"/>
<text id="lg254" transform="translate(192.30,254.80) rotate(0.03) scale(1,1.04)" font-size="22.7"><tspan font-style="italic">L</tspan><tspan font-size="17.3" dy="3.8" dx="-1.5">4</tspan><tspan dy="-3.8" dx="0.9">(<tspan class="h">1</tspan>,q,0.0<tspan class="h">1</tspan>)</tspan></text>
<path transform="translate(192.30,254.80) rotate(0.03) scale(1,1.04) translate(30.44,0.00) scale(0.01108,-0.01108)" d="M806 0H525V1059Q371 915 162 846V1101Q272 1137 401 1237.5T578 1472H806Z" fill="#000" stroke="#000" stroke-width="0.20" vector-effect="non-scaling-stroke"/>
<path transform="translate(192.30,254.80) rotate(0.03) scale(1,1.04) translate(101.07,0.00) scale(0.01108,-0.01108)" d="M806 0H525V1059Q371 915 162 846V1101Q272 1137 401 1237.5T578 1472H806Z" fill="#000" stroke="#000" stroke-width="0.20" vector-effect="non-scaling-stroke"/>
<line x1="102.9" x2="177.7" y1="287.1" y2="287.1" stroke="#ea6132" stroke-width="3.2" stroke-dasharray="10.7 4.6"/>
<text id="lg294" transform="translate(192.30,294.87) rotate(0.03) scale(1,1.04)" font-size="22.7"><tspan font-style="italic">L</tspan><tspan font-size="17.3" dy="3.8" dx="-1.5">2</tspan><tspan dy="-3.8" dx="0.9">(<tspan class="h">1</tspan>,q,0.<tspan class="h">1</tspan>)</tspan></text>
<path transform="translate(192.30,294.87) rotate(0.03) scale(1,1.04) translate(30.44,0.00) scale(0.01108,-0.01108)" d="M806 0H525V1059Q371 915 162 846V1101Q272 1137 401 1237.5T578 1472H806Z" fill="#000" stroke="#000" stroke-width="0.20" vector-effect="non-scaling-stroke"/>
<path transform="translate(192.30,294.87) rotate(0.03) scale(1,1.04) translate(88.45,0.00) scale(0.01108,-0.01108)" d="M806 0H525V1059Q371 915 162 846V1101Q272 1137 401 1237.5T578 1472H806Z" fill="#000" stroke="#000" stroke-width="0.20" vector-effect="non-scaling-stroke"/>
<line x1="102.9" x2="139.4" y1="341.9" y2="341.9" stroke="#808080" stroke-width="3.2"/>
<text id="lg349" transform="translate(153.80,349.96) rotate(0.03) scale(1,1.04)" font-size="22.7"><tspan font-style="italic">L</tspan><tspan font-size="17.3" dy="3.8" dx="-1.5">2−</tspan><tspan dy="-3.8" dx="2.0">(<tspan class="h">1</tspan>,q−,0.0<tspan class="h">1</tspan>)</tspan></text>
<path transform="translate(153.80,349.96) rotate(0.03) scale(1,1.04) translate(41.64,0.00) scale(0.01108,-0.01108)" d="M806 0H525V1059Q371 915 162 846V1101Q272 1137 401 1237.5T578 1472H806Z" fill="#000" stroke="#000" stroke-width="0.20" vector-effect="non-scaling-stroke"/>
<path transform="translate(153.80,349.96) rotate(0.03) scale(1,1.04) translate(125.51,0.00) scale(0.01108,-0.01108)" d="M806 0H525V1059Q371 915 162 846V1101Q272 1137 401 1237.5T578 1472H806Z" fill="#000" stroke="#000" stroke-width="0.20" vector-effect="non-scaling-stroke"/>
</svg></body></html>
